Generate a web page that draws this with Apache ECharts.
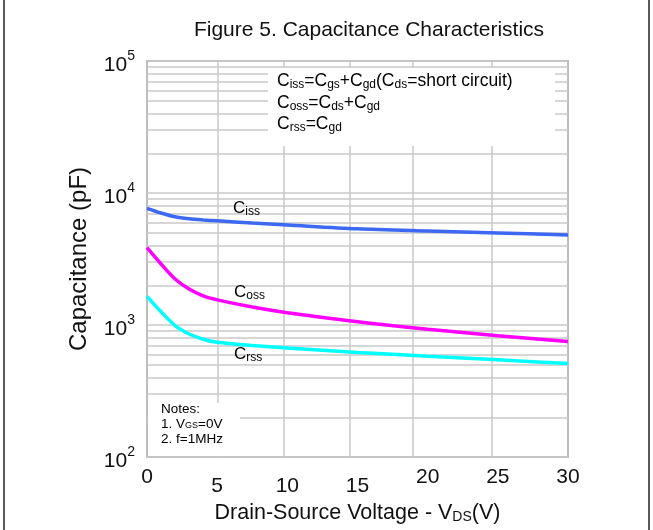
<!DOCTYPE html>
<html>
<head>
<meta charset="utf-8">
<script src="https://cdn.jsdelivr.net/npm/echarts@6/dist/echarts.min.js"></script>
<style>
  html, body { margin: 0; padding: 0; background: #fff; }
  #chart { width: 653px; height: 530px; }
</style>
</head>
<body>
<div id="chart"></div>
<script>
// drain-source voltage (V)
const vds = [0, 1, 2, 3, 4, 5, 7.5, 10, 15, 20, 25, 30]
// capacitances (pF)
const ciss = [7650, 7050, 6600, 6380, 6250, 6150, 5920, 5720, 5350, 5150, 4980, 4800]
const coss = [3850, 2900, 2230, 1870, 1660, 1550, 1370, 1240, 1060, 930, 830, 750]
const crss = [1650, 1260, 990, 855, 780, 740, 700, 670, 620, 580, 545, 510]

const yDecades = [100, 1000, 10000, 100000]
// vertical grid lines in the original sit a little off the tick labels
const xGridAt = [5.06, 9.76, 14.47, 18.96, 24.59]

const FONT = '"Liberation Sans", Arial, sans-serif'
const GRID_COLOR = '#c9c9c9'

const pairs = ys => vds.map((v, i) => [v, ys[i]])

// log minor lines 2..9 in every decade
const minorLines = []
yDecades.slice(0, -1).forEach(d => {
  for (let k = 2; k <= 9; k++) minorLines.push({ yAxis: d * k })
})

const sub = (size, pad) => ({ fontFamily: FONT, fontSize: size, color: '#111', padding: [pad, 0, 0, 0] })

const chart = echarts.init(document.getElementById('chart'))

chart.setOption({
  animation: false,
  backgroundColor: '#fff',
  title: {
    text: 'Figure 5. Capacitance Characteristics',
    left: 364,
    textAlign: 'center',
    top: 15,
    textStyle: { fontFamily: FONT, fontSize: 21, fontWeight: 'normal', color: '#111' }
  },
  grid: {
    left: 147,
    right: 85,
    top: 61,
    bottom: 73,
    show: true,
    borderColor: '#bdbdbd',
    borderWidth: 2,
    backgroundColor: 'transparent'
  },
  xAxis: {
    type: 'value',
    min: 0,
    max: 30,
    interval: 5,
    name: '{t|Drain-Source Voltage - V}{s|DS}{t|(V)}',
    nameLocation: 'middle',
    nameGap: 44,
    nameTextStyle: {
      rich: {
        t: { fontFamily: FONT, fontSize: 21.5, color: '#111' },
        s: sub(14, 8)
      }
    },
    axisLine: { show: false },
    axisTick: { show: false },
    splitLine: { show: false },
    axisLabel: {
      margin: 10,
      formatter: v => (v === 5 || v === 10 || v === 15) ? '{lo|' + v + '}' : '{hi|' + v + '}',
      rich: {
        lo: { fontFamily: FONT, fontSize: 21, color: '#111', padding: [9, 0, 0, 0] },
        hi: { fontFamily: FONT, fontSize: 21, color: '#111' }
      }
    }
  },
  yAxis: {
    type: 'log',
    logBase: 10,
    min: 100,
    max: 100000,
    name: 'Capacitance (pF)',
    nameLocation: 'middle',
    nameGap: 56,
    nameTextStyle: { fontFamily: FONT, fontSize: 24, color: '#111' },
    axisLine: { show: false },
    axisTick: { show: false },
    splitLine: { show: true, lineStyle: { color: GRID_COLOR, width: 1.5 } },
    axisLabel: {
      margin: 12,
      formatter: v => '{b|10}{p|' + Math.round(Math.log10(v)) + '}',
      rich: {
        b: { fontFamily: FONT, fontSize: 21, color: '#111', padding: [8, 0, 0, 0] },
        p: { fontFamily: FONT, fontSize: 14, color: '#111', padding: [0, 0, 10, 0] }
      }
    }
  },
  series: [
    {
      type: 'line',
      data: [],
      z: 1,
      silent: true,
      markLine: {
        silent: true,
        symbol: 'none',
        label: { show: false },
        lineStyle: { color: GRID_COLOR, type: 'solid', width: 1.5 },
        data: minorLines.concat(xGridAt.map(v => ({ xAxis: v })))
      }
    },
    {
      name: 'Ciss',
      type: 'line',
      smooth: 0.3,
      showSymbol: false,
      z: 5,
      lineStyle: { color: '#3d68f2', width: 3.5 },
      data: pairs(ciss)
    },
    {
      name: 'Coss',
      type: 'line',
      smooth: 0.3,
      showSymbol: false,
      z: 5,
      lineStyle: { color: '#ff00ff', width: 3.5 },
      data: pairs(coss)
    },
    {
      name: 'Crss',
      type: 'line',
      smooth: 0.3,
      showSymbol: false,
      z: 5,
      lineStyle: { color: '#00ffff', width: 3.5 },
      data: pairs(crss)
    }
  ],
  graphic: [
    // outer frame of the figure
    { type: 'line', shape: { x1: 4, y1: 0, x2: 4, y2: 530 }, style: { stroke: '#222', lineWidth: 1.5 } },
    { type: 'line', shape: { x1: 649, y1: 0, x2: 649, y2: 530 }, style: { stroke: '#222', lineWidth: 1.5 } },
    // formula box
    { type: 'rect', z: 50, shape: { x: 268, y: 68, width: 287, height: 78 }, style: { fill: '#fff' } },
    {
      type: 'text', z: 51, left: 277, top: 72,
      style: {
        text: '{c|C}{s|iss}{c|=C}{s|gs}{c|+C}{s|gd}{c|(C}{s|ds}{c|=short circuit)}\n' +
              '{c|C}{s|oss}{c|=C}{s|ds}{c|+C}{s|gd}\n' +
              '{c|C}{s|rss}{c|=C}{s|gd}',
        rich: {
          c: { fontFamily: FONT, fontSize: 17.5, color: '#111', lineHeight: 21.5 },
          s: { fontFamily: FONT, fontSize: 12, color: '#111', lineHeight: 21.5, padding: [7, 0, 0, 0] }
        }
      }
    },
    // notes box
    { type: 'rect', z: 50, shape: { x: 148, y: 403, width: 92, height: 53 }, style: { fill: '#fff' } },
    {
      type: 'text', z: 51, left: 161, top: 402,
      style: {
        text: '{c|Notes:}\n{c|1. V}{s|GS}{c|=0V}\n{c|2. f=1MHz}',
        rich: {
          c: { fontFamily: FONT, fontSize: 13.5, color: '#111', lineHeight: 15 },
          s: { fontFamily: FONT, fontSize: 9, color: '#111', lineHeight: 15, padding: [4, 0, 0, 0] }
        }
      }
    },
    // curve names
    {
      type: 'text', z: 51, left: 233, top: 200,
      style: { text: '{c|C}{s|iss}', rich: { c: { fontFamily: FONT, fontSize: 17, color: '#111' }, s: sub(12, 7) } }
    },
    {
      type: 'text', z: 51, left: 234, top: 284,
      style: { text: '{c|C}{s|oss}', rich: { c: { fontFamily: FONT, fontSize: 17, color: '#111' }, s: sub(12, 7) } }
    },
    {
      type: 'text', z: 51, left: 234, top: 346,
      style: { text: '{c|C}{s|rss}', rich: { c: { fontFamily: FONT, fontSize: 17, color: '#111' }, s: sub(12, 7) } }
    }
  ]
})
</script>
</body>
</html>
